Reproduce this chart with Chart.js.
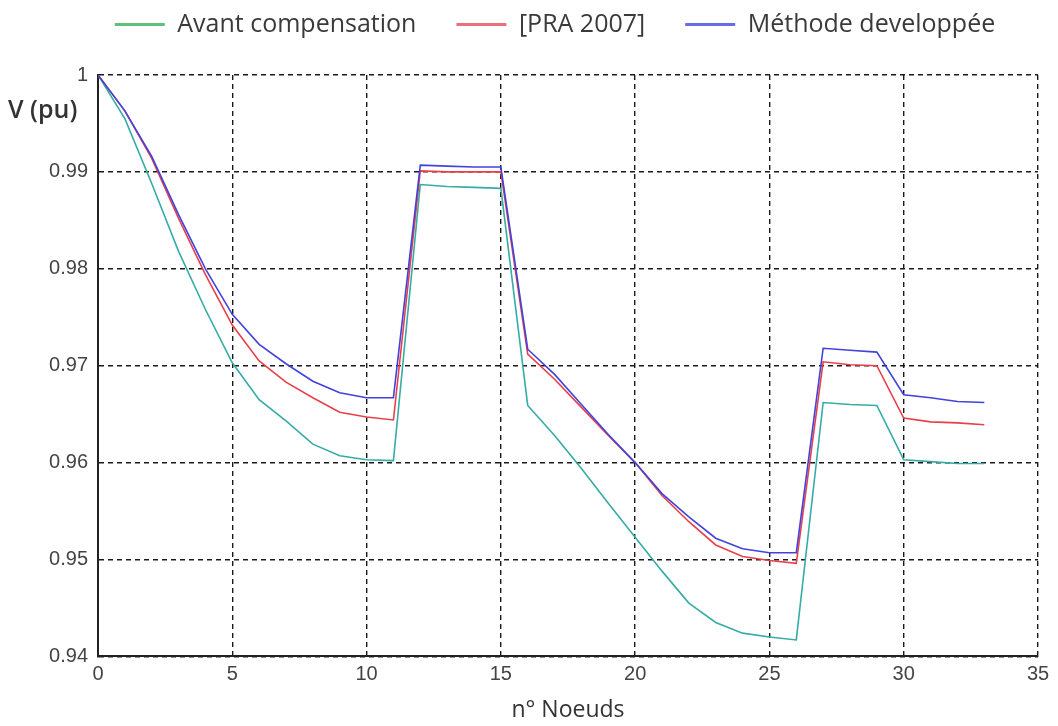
<!DOCTYPE html>
<html>
<head>
<meta charset="utf-8">
<script src="https://cdn.jsdelivr.net/npm/chart.js@4.4.0/dist/chart.umd.min.js"></script>
<style>
  html, body { margin: 0; padding: 0; background: #fff; }
  #wrap { width: 1058px; height: 726px; }
</style>
</head>
<body>
<div id="wrap"><canvas id="voltChart" width="1058" height="726"></canvas></div>
<script>
"use strict";

// node numbers (x) and voltages in pu (y)
const nodes = [0, 1, 2, 3, 4, 5, 6, 7, 8, 9, 10, 11, 12, 13, 14, 15, 16,
  17, 18, 19, 20, 21, 22, 23, 24, 25, 26, 27, 28, 29, 30, 31, 32, 33];
const avantCompensation = [1.0, 0.9955, 0.9888, 0.9818, 0.9758, 0.9703, 0.9665,
  0.9643, 0.9619, 0.9607, 0.9603, 0.9602, 0.9887, 0.9885, 0.9884, 0.9883, 0.9659,
  0.9628, 0.9594, 0.9558, 0.9523, 0.9488, 0.9455, 0.9435, 0.9424, 0.9420, 0.9417,
  0.9662, 0.9660, 0.9659, 0.9603, 0.9601, 0.9599, 0.9599];
const pra2007 = [1.0, 0.9963, 0.9914, 0.9852, 0.9794, 0.9742, 0.9705,
  0.9683, 0.9667, 0.9652, 0.9647, 0.9644, 0.9901, 0.9900, 0.9900, 0.9900, 0.9712,
  0.9686, 0.9657, 0.9628, 0.9600, 0.9566, 0.9539, 0.9515, 0.9503, 0.9499, 0.9496,
  0.9704, 0.9701, 0.9700, 0.9646, 0.9642, 0.9641, 0.9639];
const methodeDeveloppee = [1.0, 0.9963, 0.9916, 0.9856, 0.9800, 0.9753, 0.9722,
  0.9702, 0.9684, 0.9672, 0.9667, 0.9667, 0.9907, 0.9906, 0.9905, 0.9905, 0.9717,
  0.9691, 0.9660, 0.9629, 0.9600, 0.9568, 0.9544, 0.9522, 0.9511, 0.9507, 0.9507,
  0.9718, 0.9716, 0.9714, 0.9670, 0.9667, 0.9663, 0.9662];

const seriesNames = ["Avant compensation", "[PRA 2007]", "Méthode developpée"];
const lineColors = ["#35aca6", "#e8404a", "#4242dc"];
const legendColors = ["#5fbf7c", "#ee6f7c", "#6b6be6"];

const X_MIN = 0, X_MAX = 35, X_STEP = 5;
const Y_MIN = 0.94, Y_MAX = 1, Y_STEP = 0.01;

function toPoints(values) {
  return nodes.map((n, i) => ({ x: n, y: values[i] }));
}

const allSeries = [avantCompensation, pra2007, methodeDeveloppee];
const datasets = allSeries.map((values, i) => ({
  label: seriesNames[i],
  data: toPoints(values),
  borderColor: lineColors[i],
  backgroundColor: lineColors[i],
  borderWidth: 1.6,
  pointRadius: 0,
  tension: 0,
  order: 3 - i, // last series drawn on top
}));

// "V (pu)" sits horizontally under the top tick, not rotated along the axis
const yLabelPlugin = {
  id: "yLabel",
  afterLayout(chart) {
    // legend keeps its wide item spacing but sits closer to the top edge
    chart.legend.top -= 28;
    chart.legend.bottom -= 28;
  },
  afterDraw(chart) {
    const ctx = chart.ctx;
    ctx.save();
    ctx.font = "600 25px 'Open Sans'";
    ctx.fillStyle = "#333";
    ctx.textBaseline = "middle";
    ctx.textAlign = "left";
    ctx.fillText("V (pu)", 8, chart.chartArea.top + 36);
    ctx.restore();
  },
};

const gridStyle = { color: "#1a1a1a", lineWidth: 1.4, drawTicks: false };
const borderStyle = { display: true, color: "#222", width: 2, dash: [5, 4] };
const tickFont = { family: "'Liberation Sans', Arial, sans-serif", size: 20 };

const ctx = document.getElementById("voltChart").getContext("2d");
const chart = new Chart(ctx, {
  type: "line",
  data: { datasets: datasets },
  options: {
    responsive: false,
    devicePixelRatio: 1,
    animation: false,
    layout: { padding: { top: 0, left: 30, right: -22, bottom: 2 } },
    plugins: {
      tooltip: { enabled: false },
      legend: {
        position: "top",
        labels: {
          boxWidth: 50,
          boxHeight: 3,
          padding: 40,
          color: "#3a3a3a",
          font: { family: "'Open Sans'", size: 25 },
          generateLabels(chart) {
            return chart.data.datasets.map((ds, i) => ({
              text: ds.label,
              fillStyle: legendColors[i],
              strokeStyle: legendColors[i],
              lineWidth: 0,
              hidden: false,
              datasetIndex: i,
              fontColor: "#3a3a3a",
            }));
          },
        },
      },
    },
    scales: {
      x: {
        type: "linear",
        min: X_MIN,
        max: X_MAX,
        ticks: { stepSize: X_STEP, padding: 6, color: "#444", font: tickFont },
        grid: gridStyle,
        border: borderStyle,
        title: {
          display: true,
          text: "n° Noeuds",
          color: "#333",
          font: { family: "'Open Sans'", size: 23 },
          padding: { top: 4, bottom: 0 },
        },
        afterFit(scale) {
          scale.paddingRight = 20;
        },
      },
      y: {
        type: "linear",
        min: Y_MIN,
        max: Y_MAX,
        ticks: {
          stepSize: Y_STEP,
          padding: 10,
          color: "#444",
          font: tickFont,
          callback: (v) => (Math.abs(v - 1) < 1e-9 ? "1" : v.toFixed(2)),
        },
        grid: gridStyle,
        border: borderStyle,
        afterFit(scale) {
          scale.width = 68;
          scale.paddingTop = 72;
        },
      },
    },
  },
  plugins: [yLabelPlugin],
});
</script>
</body>
</html>
